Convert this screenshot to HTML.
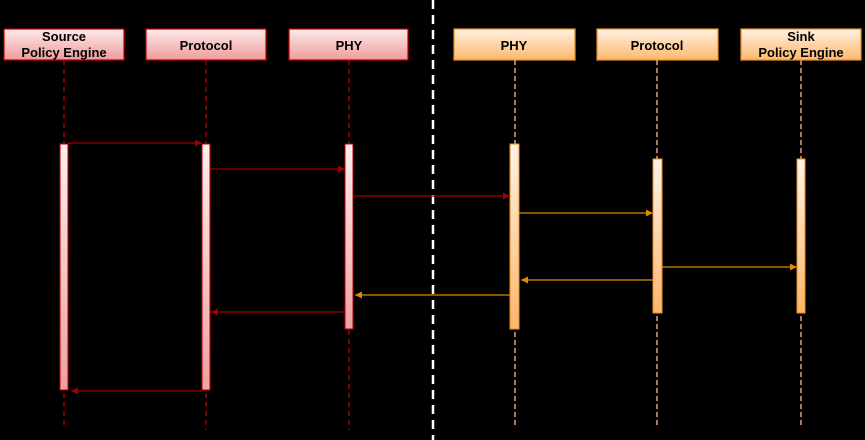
<!DOCTYPE html>
<html><head><meta charset="utf-8"><style>
html,body{margin:0;padding:0;background:#000;}
svg{display:block;}
text{font-family:"Liberation Sans",sans-serif;font-weight:bold;font-size:13px;fill:#000;}
</style></head><body>
<svg width="865" height="440" viewBox="0 0 865 440" xmlns="http://www.w3.org/2000/svg">
<defs>
<linearGradient id="rb" x1="0" y1="0" x2="0" y2="1"><stop offset="0" stop-color="#fdeaea"/><stop offset="1" stop-color="#ef9b9b"/></linearGradient>
<linearGradient id="ob" x1="0" y1="0" x2="0" y2="1"><stop offset="0" stop-color="#fff1e2"/><stop offset="1" stop-color="#fdb86c"/></linearGradient>
<linearGradient id="rbar" x1="0" y1="0" x2="0" y2="1"><stop offset="0" stop-color="#fdeeee"/><stop offset="1" stop-color="#f0a0a0"/></linearGradient>
<linearGradient id="obar" x1="0" y1="0" x2="0" y2="1"><stop offset="0" stop-color="#fff3e6"/><stop offset="1" stop-color="#fdb56a"/></linearGradient>
<marker id="ar" markerWidth="8" markerHeight="8" refX="7" refY="4" orient="auto" markerUnits="userSpaceOnUse"><path d="M0,0.5 L7,4 L0,7.5 z" fill="#a00000"/></marker>
<marker id="ao" markerWidth="8" markerHeight="8" refX="7" refY="4" orient="auto" markerUnits="userSpaceOnUse"><path d="M0,0.5 L7,4 L0,7.5 z" fill="#e08a00"/></marker>
</defs>
<!-- divider -->
<line x1="433" y1="0" x2="433" y2="440" stroke="#fff" stroke-width="2.5" stroke-dasharray="9,6"/>
<!-- lifelines -->
<g stroke="#a00000" stroke-width="1.5" stroke-dasharray="5,4">
<line x1="64" y1="60" x2="64" y2="425"/><line x1="206" y1="60" x2="206" y2="430"/><line x1="349" y1="60" x2="349" y2="430"/>
</g>
<g stroke="#e8a088" stroke-width="1.5" stroke-dasharray="5,3">
<line x1="515" y1="60" x2="515" y2="426"/><line x1="657" y1="60" x2="657" y2="426"/><line x1="801" y1="60" x2="801" y2="426"/>
</g>
<!-- boxes -->
<g stroke="#c00000" stroke-width="1.2" fill="url(#rb)">
<rect x="4" y="29" width="120" height="31"/><rect x="146" y="29" width="120" height="31"/><rect x="289" y="29" width="119" height="31"/>
</g>
<g stroke="#e89020" stroke-width="1.2" fill="url(#ob)">
<rect x="454" y="29" width="121" height="31"/><rect x="597" y="29" width="121" height="31"/><rect x="741" y="29" width="120" height="31"/>
</g>
<text x="64" y="41" text-anchor="middle">Source</text>
<text x="64" y="57" text-anchor="middle">Policy Engine</text>
<text x="206" y="50" text-anchor="middle">Protocol</text>
<text x="349" y="50" text-anchor="middle">PHY</text>
<text x="514" y="50" text-anchor="middle">PHY</text>
<text x="657" y="50" text-anchor="middle">Protocol</text>
<text x="801" y="41" text-anchor="middle">Sink</text>
<text x="801" y="57" text-anchor="middle">Policy Engine</text>
<!-- bars -->
<g stroke="#c00000" stroke-width="1" fill="url(#rbar)">
<rect x="60" y="144" width="8" height="246"/><rect x="202" y="144" width="8" height="246"/><rect x="345" y="144" width="8" height="185"/>
</g>
<g stroke="#e89020" stroke-width="1" fill="url(#obar)">
<rect x="510" y="144" width="9" height="185"/><rect x="653" y="159" width="9" height="154"/><rect x="797" y="159" width="8" height="154"/>
</g>
<!-- messages -->
<g stroke="#a00000" stroke-width="1.2" fill="none">
<line x1="68" y1="143" x2="202" y2="143" marker-end="url(#ar)"/>
<line x1="210" y1="169" x2="345" y2="169" marker-end="url(#ar)"/>
<line x1="353" y1="196" x2="510" y2="196" marker-end="url(#ar)"/>
<line x1="345" y1="312" x2="211" y2="312" marker-end="url(#ar)"/>
<line x1="202" y1="391" x2="71" y2="391" marker-end="url(#ar)"/>
</g>
<g stroke="#e08a00" stroke-width="1.2" fill="none">
<line x1="519" y1="213" x2="653" y2="213" marker-end="url(#ao)"/>
<line x1="662" y1="267" x2="797" y2="267" marker-end="url(#ao)"/>
<line x1="653" y1="280" x2="521" y2="280" marker-end="url(#ao)"/>
<line x1="510" y1="295" x2="355" y2="295" marker-end="url(#ao)"/>
</g>
</svg>
</body></html>
